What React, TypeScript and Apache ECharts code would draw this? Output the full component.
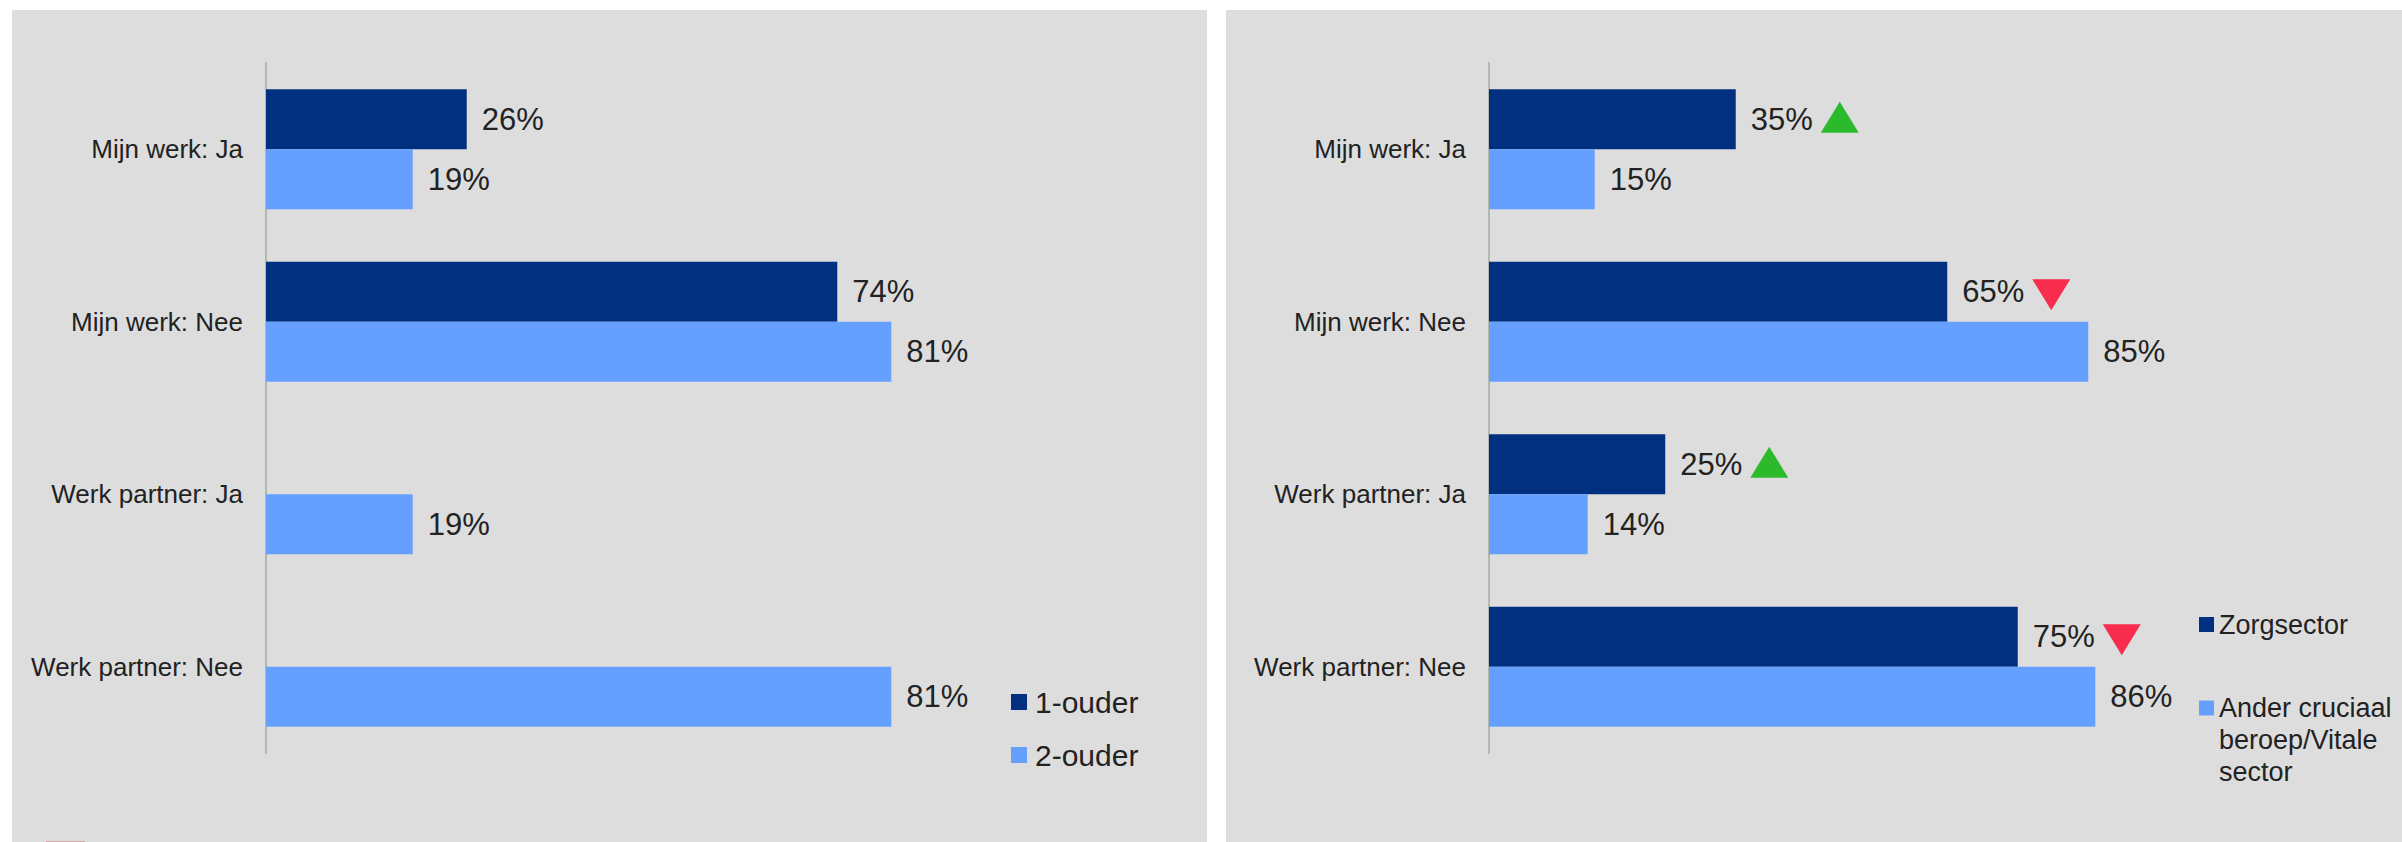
import React, { useEffect, useRef } from 'react';
import * as echarts from 'echarts';

const categories = ['Mijn werk: Ja', 'Mijn werk: Nee', 'Werk partner: Ja', 'Werk partner: Nee'];

const leftNames = ['1-ouder', '2-ouder'];
const eenOuder: (number | null)[] = [26, 74, null, null];
const tweeOuder: number[] = [19, 81, 19, 81];

const rightNames = ['Zorgsector', 'Ander cruciaal beroep/Vitale sector'];
const rightLegendLabel = '\n\nAnder cruciaal\nberoep/Vitale\nsector';
const zorgsector: number[] = [35, 65, 25, 75];
const anderSector: number[] = [15, 85, 14, 86];
const zorgTrend: ('up' | 'down')[] = ['up', 'down', 'up', 'down'];

const DARK = '#00307F';
const LIGHT = '#66A0FF';
const PANEL = '#DDDDDD';
const AXIS = '#B4B7AC';
const TEXT = '#222222';
const UP = '#00B000';
const DOWN = '#FF0028';
const FONT = '"Liberation Sans", Arial, sans-serif';

function barLabel() {
  return {
    show: true,
    position: 'right',
    distance: 15,
    formatter: (p: any) => `${p.value}%`,
    fontSize: 31,
    color: TEXT,
    fontFamily: FONT,
  };
}

export default function App() {
  const ref = useRef<HTMLDivElement>(null);

  useEffect(() => {
    if (!ref.current) return;
    const chart = echarts.init(ref.current, undefined, { renderer: 'svg' });

    const yAxisBase = {
      type: 'category',
      data: categories,
      inverse: true,
      axisTick: { show: false },
      axisLine: { show: true, lineStyle: { color: AXIS, width: 2 } },
      axisLabel: { fontSize: 26, color: TEXT, fontFamily: FONT, margin: 23 },
      splitLine: { show: false },
    };
    const xAxisBase = {
      type: 'value',
      min: 0,
      max: 100,
      show: false,
      splitLine: { show: false },
    };

    chart.setOption({
      animation: false,
      backgroundColor: '#FFFFFF',
      textStyle: { fontFamily: FONT },
      graphic: [
        { type: 'rect', z: -10, shape: { x: 12, y: 10, width: 1195, height: 832 }, style: { fill: PANEL } },
        { type: 'rect', z: -10, shape: { x: 1226, y: 10, width: 1176, height: 832 }, style: { fill: PANEL } },
        { type: 'rect', z: -9, shape: { x: 46, y: 841, width: 39, height: 1 }, style: { fill: '#D9A1AA' } },
      ],
      grid: [
        { left: 266, top: 63, width: 772, height: 690, containLabel: false },
        { left: 1489, top: 63, width: 705, height: 690, containLabel: false },
      ],
      xAxis: [
        { ...xAxisBase, gridIndex: 0 },
        { ...xAxisBase, gridIndex: 1 },
      ],
      yAxis: [
        { ...yAxisBase, gridIndex: 0 },
        { ...yAxisBase, gridIndex: 1 },
      ],
      legend: [
        {
          data: leftNames,
          orient: 'vertical',
          left: 1006,
          top: 682,
          itemWidth: 16,
          itemHeight: 16,
          itemGap: 23,
          icon: 'rect',
          textStyle: { fontSize: 30, lineHeight: 30, color: TEXT, fontFamily: FONT, padding: [0, 0, 0, 3] },
        },
        {
          data: [rightNames[0]],
          orient: 'vertical',
          left: 2194,
          top: 603,
          itemWidth: 15,
          itemHeight: 15,
          icon: 'rect',
          textStyle: { fontSize: 27, lineHeight: 33, color: TEXT, fontFamily: FONT },
        },
        {
          data: [rightNames[1]],
          orient: 'vertical',
          left: 2194,
          top: 623,
          itemWidth: 15,
          itemHeight: 15,
          icon: 'rect',
          formatter: () => rightLegendLabel,
          textStyle: { fontSize: 27, lineHeight: 32, color: TEXT, fontFamily: FONT },
        },
      ],
      series: [
        {
          name: leftNames[0],
          type: 'bar',
          xAxisIndex: 0,
          yAxisIndex: 0,
          data: eenOuder,
          barWidth: 60,
          barGap: '0%',
          itemStyle: { color: DARK },
          label: barLabel(),
        },
        {
          name: leftNames[1],
          type: 'bar',
          xAxisIndex: 0,
          yAxisIndex: 0,
          data: tweeOuder,
          barWidth: 60,
          barGap: '0%',
          itemStyle: { color: LIGHT },
          label: barLabel(),
        },
        {
          name: rightNames[0],
          type: 'bar',
          xAxisIndex: 1,
          yAxisIndex: 1,
          data: zorgsector,
          barWidth: 60,
          barGap: '0%',
          itemStyle: { color: DARK },
          label: barLabel(),
        },
        {
          name: rightNames[1],
          type: 'bar',
          xAxisIndex: 1,
          yAxisIndex: 1,
          data: anderSector,
          barWidth: 60,
          barGap: '0%',
          itemStyle: { color: LIGHT },
          label: barLabel(),
        },
        {
          name: 'trend',
          type: 'scatter',
          xAxisIndex: 1,
          yAxisIndex: 1,
          z: 5,
          silent: true,
          symbol: 'triangle',
          symbolSize: [38, 31],
          data: zorgsector.map((v, i) => {
            const up = zorgTrend[i] === 'up';
            return {
              value: [v, categories[i]],
              symbolRotate: up ? 0 : 180,
              symbolOffset: [104, up ? -32 : -27],
              itemStyle: { color: up ? UP : DOWN },
            };
          }),
        },
      ],
    });

    return () => chart.dispose();
  }, []);

  return (
    <div
      ref={ref}
      style={{ position: 'absolute', left: 0, top: 0, width: 2402, height: 842 }}
    />
  );
}
